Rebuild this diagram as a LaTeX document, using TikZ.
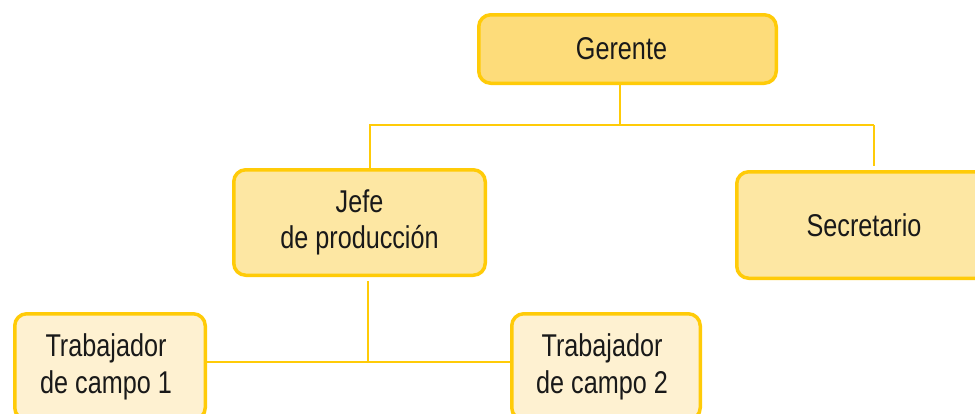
\documentclass[tikz,border=0pt]{standalone}
\usepackage{fontspec}
\setmainfont{Liberation Sans}[FakeStretch=0.8]
\definecolor{bordo}{RGB}{255,203,8}
\definecolor{fillA}{RGB}{253,220,122}
\definecolor{fillB}{RGB}{253,231,163}
\definecolor{fillC}{RGB}{254,241,209}
\tikzset{
  box/.style={draw=bordo, line width=3.5pt, rounded corners=12pt, inner sep=0pt,
    align=center, font=\fontsize{31.5}{36.5}\selectfont, text=black!90},
  conn/.style={draw=bordo, line width=2.2pt}
}
\begin{document}
\begin{tikzpicture}[x=1pt,y=-1pt]
\useasboundingbox (0,0) rectangle (975,413);
\clip (0,0) rectangle (975,413);
\node[box, fill=fillA, minimum width=297.5pt, minimum height=68.5pt] (ger) at (627.5,49) {\hspace*{-12pt}Gerente};
\node[box, fill=fillB, minimum width=251.5pt, minimum height=105.5pt] (jefe) at (359.5,222.5) {Jefe\\de producción};
\node[box, fill=fillB, minimum width=254.5pt, minimum height=106.5pt] (sec) at (864,225) {Secretario};
\node[box, fill=fillC, minimum width=190.5pt, minimum height=106pt] (t1) at (110,366.75) {\hspace*{-8pt}Trabajador\\\hspace*{-8pt}de campo 1};
\node[box, fill=fillC, minimum width=188.5pt, minimum height=106pt] (t2) at (606,366.75) {\hspace*{-8pt}Trabajador\\\hspace*{-8pt}de campo 2};
\coordinate (gx) at (620,125);
\coordinate (busL) at (370,125);
\coordinate (busR) at (874,125);
\coordinate (jb) at (368,362);
\draw[conn] (ger.south -| gx) -- (gx);
\draw[conn] (jefe.north -| busL) -- (busL) -- (busR);
\draw[conn, shorten >=4pt] (busR) -- (sec.north -| busR);
\draw[conn, shorten <=4pt] (jefe.south -| jb) -- (jb);
\draw[conn] (t1.east |- jb) -- (t2.west |- jb);
\end{tikzpicture}
\end{document}
